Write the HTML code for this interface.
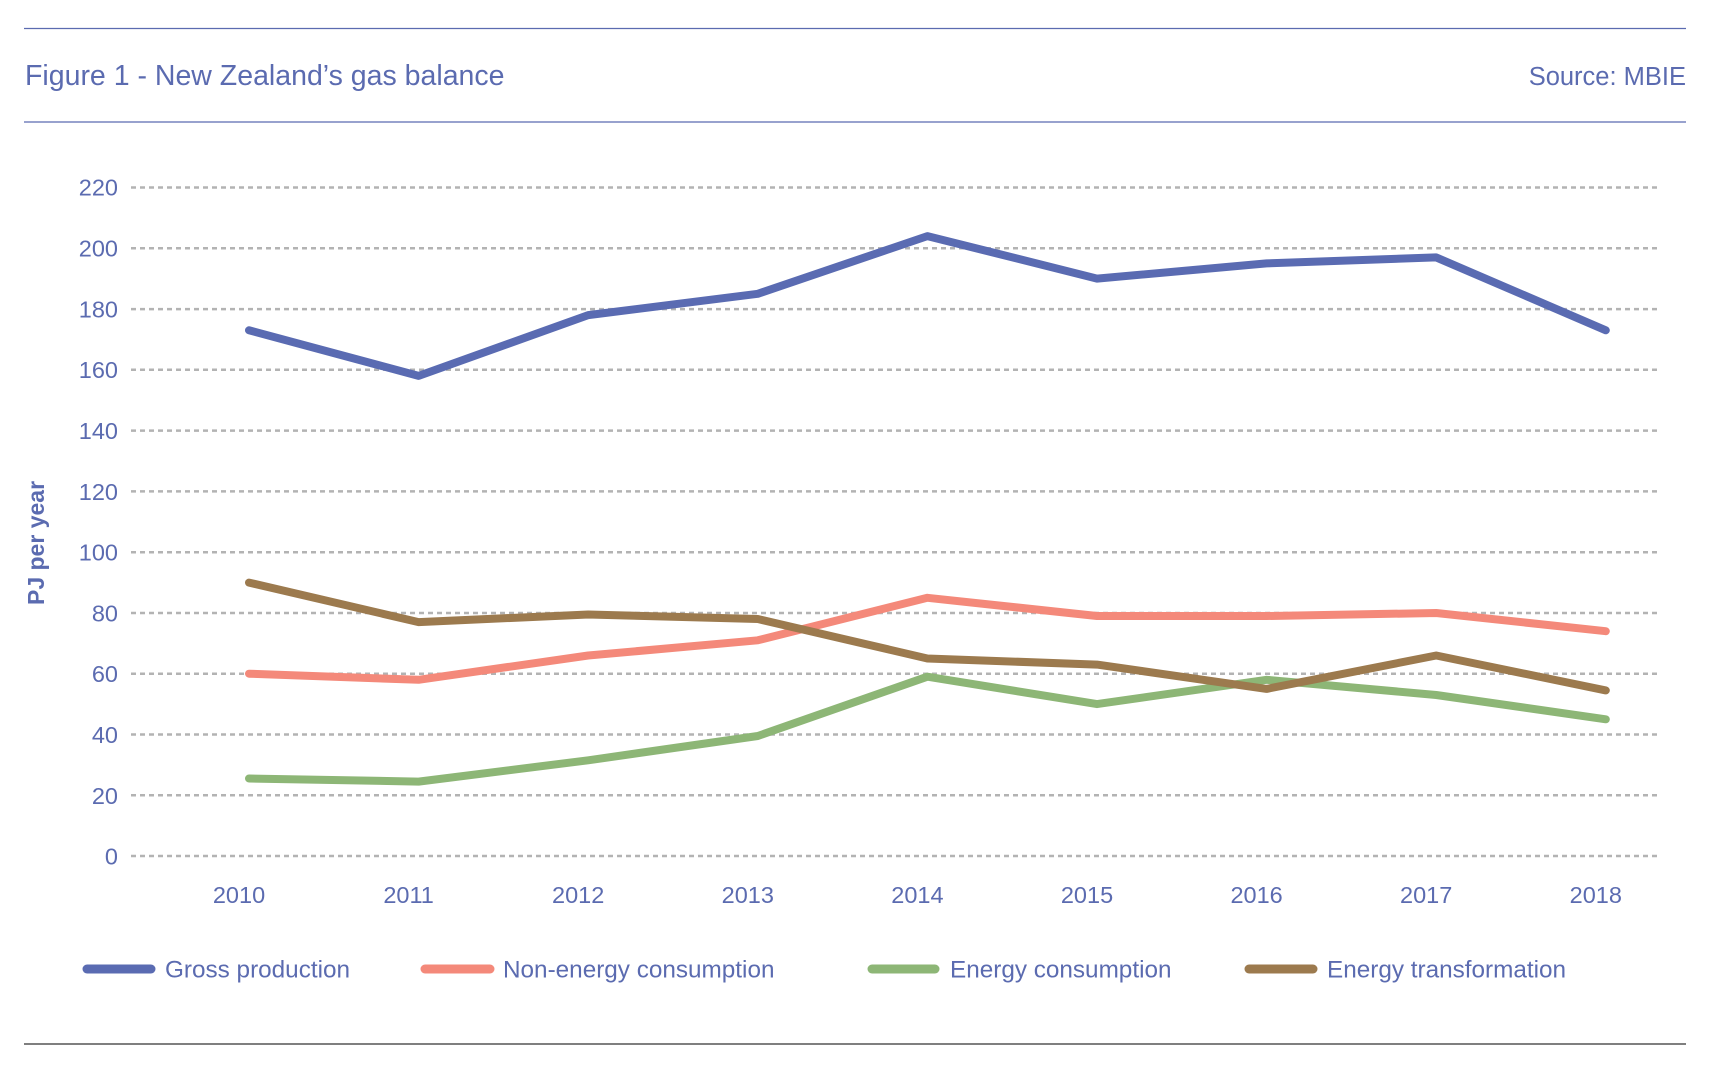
<!DOCTYPE html>
<html><head><meta charset="utf-8"><style>
html,body{margin:0;padding:0;background:#fff;}
svg{display:block;font-family:"Liberation Sans",sans-serif;}
</style></head><body>
<svg width="1712" height="1066" viewBox="0 0 1712 1066" xmlns="http://www.w3.org/2000/svg">
<line x1="24" y1="28.5" x2="1686" y2="28.5" stroke="#5b6bb0" stroke-width="1.3"/>
<line x1="24" y1="122" x2="1686" y2="122" stroke="#5b6bb0" stroke-width="1.3"/>
<line x1="24" y1="1044" x2="1686" y2="1044" stroke="#333" stroke-width="1.3"/>
<text x="25" y="85" font-size="28.5" fill="#5b6bb0">Figure 1 - New Zealand’s gas balance</text>
<text x="1686" y="85" font-size="25.5" fill="#5b6bb0" text-anchor="end">Source: MBIE</text>
<g stroke="#b3b3b3" stroke-width="2.5" stroke-dasharray="5,4">
<line x1="131" x2="1660" y1="187.5" y2="187.5"/><line x1="131" x2="1660" y1="248.3" y2="248.3"/>
<line x1="131" x2="1660" y1="309.1" y2="309.1"/><line x1="131" x2="1660" y1="369.8" y2="369.8"/>
<line x1="131" x2="1660" y1="430.6" y2="430.6"/><line x1="131" x2="1660" y1="491.4" y2="491.4"/>
<line x1="131" x2="1660" y1="552.2" y2="552.2"/><line x1="131" x2="1660" y1="613" y2="613"/>
<line x1="131" x2="1660" y1="673.7" y2="673.7"/><line x1="131" x2="1660" y1="734.5" y2="734.5"/>
<line x1="131" x2="1660" y1="795.3" y2="795.3"/><line x1="131" x2="1660" y1="856" y2="856"/>
</g>
<g font-size="23.5" fill="#5b6bb0" text-anchor="end">
<text x="118" y="195.5">220</text><text x="118" y="256.5">200</text><text x="118" y="317.5">180</text>
<text x="118" y="378">160</text><text x="118" y="439">140</text><text x="118" y="500">120</text>
<text x="118" y="560.5">100</text><text x="118" y="621.5">80</text><text x="118" y="682">60</text>
<text x="118" y="743">40</text><text x="118" y="804">20</text><text x="118" y="864.5">0</text>
</g>
<g font-size="23.5" fill="#5b6bb0" text-anchor="middle">
<text x="239" y="903">2010</text><text x="408.6" y="903">2011</text><text x="578.2" y="903">2012</text>
<text x="747.8" y="903">2013</text><text x="917.4" y="903">2014</text><text x="1087" y="903">2015</text>
<text x="1256.6" y="903">2016</text><text x="1426.2" y="903">2017</text><text x="1595.8" y="903">2018</text>
</g>
<text transform="translate(44,543) rotate(-90)" font-size="23" font-weight="bold" fill="#5b6bb0" text-anchor="middle">PJ per year</text>
<g fill="none" stroke-width="8" stroke-linejoin="round" stroke-linecap="round">
<polyline stroke="#5a6bb2" points="249,330.3 418.6,375.9 588.2,315.1 757.8,293.8 927.4,236.1 1097,278.6 1266.6,263.4 1436.2,257.4 1605.8,330.3"/>
<polyline stroke="#f4897a" points="249,673.7 418.6,679.8 588.2,655.5 757.8,640.3 927.4,597.8 1097,616 1266.6,616 1436.2,613 1605.8,631.2"/>
<polyline stroke="#8db676" points="249,778.5 418.6,781.6 588.2,760.3 757.8,736 927.4,676.7 1097,704.1 1266.6,679.8 1436.2,695 1605.8,719.3"/>
<polyline stroke="#9c7a4e" points="249,582.6 418.6,622.1 588.2,614.5 757.8,619 927.4,658.5 1097,664.6 1266.6,688.9 1436.2,655.5 1605.8,690.4"/>
</g>
<g stroke-width="9" stroke-linecap="round">
<line x1="87" x2="151" y1="969" y2="969" stroke="#5a6bb2"/>
<line x1="425" x2="490" y1="969" y2="969" stroke="#f4897a"/>
<line x1="872" x2="935" y1="969" y2="969" stroke="#8db676"/>
<line x1="1249" x2="1313" y1="969" y2="969" stroke="#9c7a4e"/>
</g>
<g font-size="24.3" fill="#5b6bb0">
<text x="165" y="977.5">Gross production</text>
<text x="503" y="977.5">Non-energy consumption</text>
<text x="950" y="977.5">Energy consumption</text>
<text x="1327" y="977.5">Energy transformation</text>
</g>
</svg>
</body></html>
